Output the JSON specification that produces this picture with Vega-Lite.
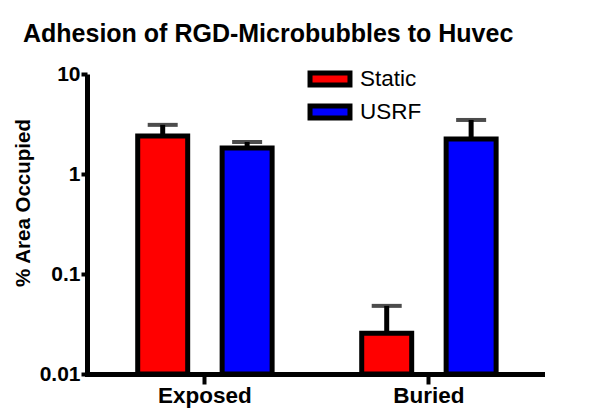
{
  "$schema": "https://vega.github.io/schema/vega-lite/v6.json",
  "width": 455,
  "height": 300,
  "autosize": {"type": "none"},
  "padding": {"left": 87, "top": 74, "right": 58, "bottom": 46},
  "background": "white",
  "config": {
    "view": {"stroke": null},
    "font": "Liberation Sans"
  },
  "title": {
    "text": "Adhesion of RGD-Microbubbles to Huvec",
    "font": "Liberation Sans",
    "fontSize": 25,
    "fontWeight": "bold",
    "color": "black",
    "anchor": "start",
    "frame": "group",
    "dx": -64,
    "baseline": "alphabetic",
    "offset": -4
  },
  "data": {
    "values": [
      {"location": "Exposed", "condition": "Static", "value": 2.4, "err": 3.1},
      {"location": "Exposed", "condition": "USRF", "value": 1.82, "err": 2.09},
      {"location": "Buried", "condition": "Static", "value": 0.0255, "err": 0.048},
      {"location": "Buried", "condition": "USRF", "value": 2.24, "err": 3.47}
    ]
  },
  "encoding": {
    "x": {
      "field": "location",
      "type": "nominal",
      "sort": ["Exposed", "Buried"],
      "scale": {"paddingInner": 0.4, "paddingOuter": 0.2156, "align": 0.525},
      "axis": {
        "title": null,
        "labelAngle": 0,
        "labelFont": "Liberation Sans",
        "labelFontSize": 22.5,
        "labelFontWeight": "bold",
        "labelColor": "black",
        "labelPadding": 0,
        "domainColor": "black",
        "domainWidth": 5,
        "domainCap": "square",
        "tickColor": "black",
        "tickWidth": 4,
        "tickSize": 10
      }
    },
    "xOffset": {
      "field": "condition",
      "type": "nominal",
      "sort": ["Static", "USRF"],
      "scale": {"paddingInner": 0.408, "paddingOuter": 0}
    }
  },
  "layer": [
    {
      "mark": {"type": "rule", "color": "black", "strokeWidth": 5},
      "encoding": {
        "y": {"field": "value", "type": "quantitative", "scale": {"type": "log", "domain": [0.01, 10], "nice": false}},
        "y2": {"field": "err"}
      }
    },
    {
      "mark": {"type": "tick", "color": "black", "thickness": 4, "size": 30, "orient": "horizontal"},
      "encoding": {
        "y": {"field": "err", "type": "quantitative"}
      }
    },
    {
      "mark": {"type": "bar", "stroke": "black", "strokeWidth": 5, "strokeJoin": "miter"},
      "encoding": {
        "y": {
          "field": "value",
          "type": "quantitative",
          "scale": {"type": "log", "domain": [0.01, 10], "nice": false},
          "axis": {
            "title": "% Area Occupied",
            "titleFont": "Liberation Sans",
            "titleFontSize": 20.5,
            "titleFontWeight": "bold",
            "titleColor": "black",
            "titleAngle": -90,
            "titleAlign": "center",
            "titleBaseline": "alphabetic",
            "titleX": -58,
            "titleY": 128.5,
            "values": [0.01, 0.1, 1, 10],
            "format": "~g",
            "labelFont": "Liberation Sans",
            "labelFontSize": 21,
            "labelFontWeight": "bold",
            "labelColor": "black",
            "labelPadding": 1,
            "labelFlush": false,
            "labelOverlap": false,
            "domainColor": "black",
            "domainWidth": 5,
            "tickColor": "black",
            "tickWidth": 4,
            "tickSize": 6,
            "grid": false
          }
        },
        "y2": {"datum": 0.01},
        "fill": {
          "field": "condition",
          "type": "nominal",
          "scale": {"domain": ["Static", "USRF"], "range": ["#FF0000", "#0000FF"]},
          "legend": {
            "title": null,
            "orient": "none",
            "legendX": 227,
            "legendY": -11,
            "padding": 0,
            "symbolType": "M-1.48,-0.44H1.48V0.44H-1.48Z",
            "symbolSize": 729,
            "symbolStrokeColor": "black",
            "symbolStrokeWidth": 5,
            "symbolOpacity": 1,
            "labelFont": "Liberation Sans",
            "labelFontSize": 22.5,
            "labelColor": "black",
            "labelOffset": 14,
            "rowPadding": 1
          }
        }
      }
    }
  ]
}
